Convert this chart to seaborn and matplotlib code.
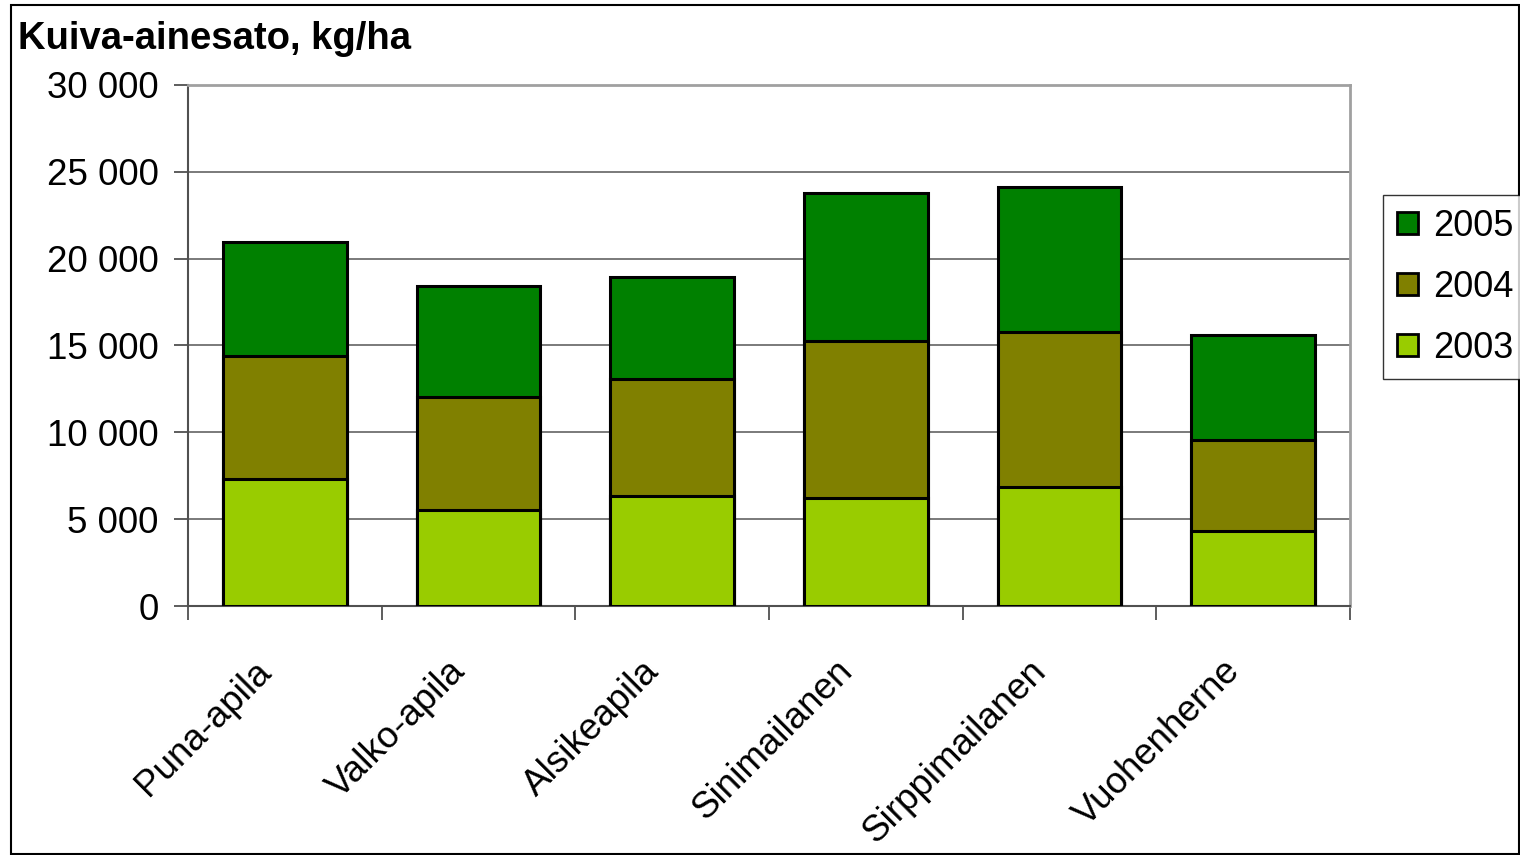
import pandas as pd
import seaborn as sns
import matplotlib.pyplot as plt
import matplotlib.patches as mpatches
import matplotlib.transforms as mtransforms
from matplotlib.ticker import FuncFormatter, FixedLocator
import numpy as np

# Data (kg/ha per year)
kasvit = ['Puna-apila', 'Valko-apila', 'Alsikeapila', 'Sinimailanen', 'Sirppimailanen', 'Vuohenherne']
v2003 = [7300, 5530, 6330, 6220, 6850, 4320]
v2004 = [7090, 6500, 6740, 9040, 8920, 5240]
v2005 = [6570, 6390, 5870, 8520, 8350, 6040]

colors = {'2003': '#99CC00', '2004': '#808000', '2005': '#008000'}

df = pd.DataFrame({'kasvi': kasvit, '2003': v2003, '2004': v2004, '2005': v2005})
df['c2003'] = df['2003']
df['c2004'] = df['2003'] + df['2004']
df['c2005'] = df['c2004'] + df['2005']

sns.set_style('white')
plt.rcParams['font.family'] = ['Liberation Sans', 'DejaVu Sans']
plt.rcParams['text.color'] = 'black'
plt.rcParams['xtick.color'] = 'black'
plt.rcParams['ytick.color'] = 'black'

fig = plt.figure(figsize=(15.2, 8.55), dpi=100)
ax = fig.add_axes([188 / 1520, 1 - 606 / 855, (1350 - 188) / 1520, (606 - 85) / 855])

# stacked bars: draw cumulative totals back to front
for year in ['2005', '2004', '2003']:
    sns.barplot(data=df, x='kasvi', y='c' + year, color=colors[year], width=0.64,
                edgecolor='black', linewidth=2.2, saturation=1, ax=ax, zorder=3)

ax.set_ylim(0, 30000)
ax.set_xlim(-0.5, len(kasvit) - 0.5)
ax.set_yticks(np.arange(0, 30001, 5000))
ax.yaxis.set_major_formatter(FuncFormatter(lambda v, p: f'{int(v):,}'.replace(',', ' ')))
ax.yaxis.grid(True, color='#707070', linewidth=1.3, zorder=0)
ax.set_axisbelow(True)
ax.set_xlabel('')
ax.set_ylabel('')

# spines
for s in ['top', 'right']:
    ax.spines[s].set_color('#a0a0a0')
    ax.spines[s].set_linewidth(2)
for s in ['left', 'bottom']:
    ax.spines[s].set_color('#505050')
    ax.spines[s].set_linewidth(1.5)

# category labels at centers, tick marks at boundaries
ax.set_xticks(range(len(kasvit)))
ax.set_xticklabels(kasvit, rotation=45, ha='right', rotation_mode='anchor', fontsize=26.5)
ax.tick_params(axis='x', which='major', length=0, pad=30)
shift = mtransforms.ScaledTranslation(-31 / 100, -6 / 100, fig.dpi_scale_trans)
for lab in ax.get_xticklabels():
    lab.set_transform(lab.get_transform() + shift)
ax.xaxis.set_minor_locator(FixedLocator(np.arange(-0.5, len(kasvit), 1)))
ax.tick_params(axis='x', which='minor', length=10, width=1.3, color='#505050', direction='out', bottom=True)
ax.tick_params(axis='y', which='major', length=10, width=1.3, color='#505050', direction='out',
               left=True, labelsize=26.5, pad=11, labelcolor='black')

fig.text(18 / 1520, 1 - 39 / 855, 'Kuiva-ainesato, kg/ha', fontsize=27.5, fontweight='bold',
         ha='left', va='center')

handles = [mpatches.Patch(facecolor=colors[y], edgecolor='black', linewidth=2, label=y)
           for y in ['2005', '2004', '2003']]
leg = fig.legend(handles=handles, loc='upper left', bbox_to_anchor=(1383 / 1520, 1 - 195 / 855),
                 fontsize=26, frameon=True, fancybox=False, handlelength=0.6, handleheight=0.6,
                 handletextpad=0.4, labelspacing=0.72, borderpad=0.38, borderaxespad=0)
leg.get_frame().set_edgecolor('black')
leg.get_frame().set_linewidth(1)

# outer border of the figure
fig.patches.append(mpatches.Rectangle((11 / 1520, 1 - 854 / 855), 1508 / 1520, 849 / 855,
                                      transform=fig.transFigure, fill=False,
                                      edgecolor='black', linewidth=1.5))

plt.savefig('out.png', dpi=100)
